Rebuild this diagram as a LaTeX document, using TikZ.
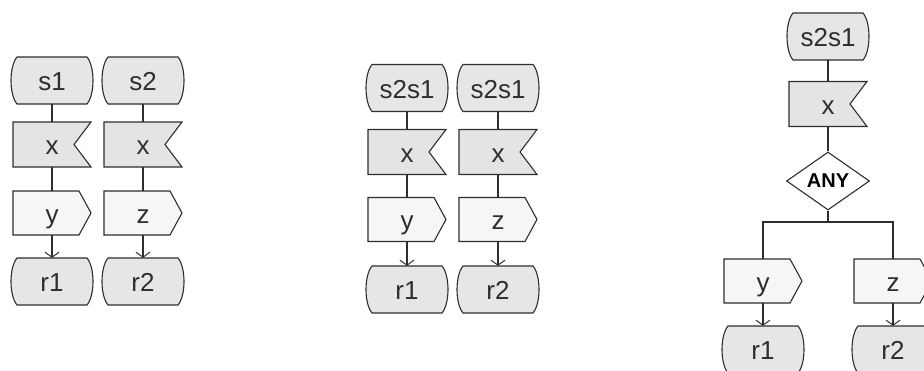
\documentclass[tikz,border=0pt]{standalone}
\usepackage{fontspec}
\setmainfont{Liberation Sans}
\usetikzlibrary{shapes.geometric,arrows.meta}
\definecolor{termfill}{HTML}{E6E6E6}
\definecolor{recvfill}{HTML}{E4E4E4}
\definecolor{sendfill}{HTML}{F6F6F6}
\definecolor{edgecol}{HTML}{2E2E2E}
\tikzset{
  outline/.style={draw=edgecol, line width=1.1pt, line join=miter},
  lbl/.style={inner sep=0pt, font=\fontsize{26}{30}\selectfont, text=edgecol,
              text height=20pt, text depth=0pt},
  conn/.style={draw=edgecol, line width=1.1pt},
  arr/.style={conn, -{Straight Barb[length=5pt,width=14pt,line width=1pt]}},
  decision/.style={diamond, outline, fill=white, inner sep=0pt,
              minimum width=83pt, minimum height=58pt,
              font=\fontsize{20}{22}\selectfont\bfseries, text=black}
}
\newcommand\SDLterm[4]{%
  \filldraw[outline, fill=termfill, shift={(#2,#3)}]
    (-35,-23.5) -- (35,-23.5) .. controls (43,-14) and (43,14) .. (35,23.5)
    -- (-35,23.5) .. controls (-43,14) and (-43,-14) .. (-35,-23.5) -- cycle;
  \node[lbl, minimum width=82pt, minimum height=47pt] (#1) at (#2,#3) {#4};
}
\newcommand\SDLrecv[4]{%
  \filldraw[outline, fill=recvfill, shift={(#2,#3)}]
    (-39,-22.5) -- (39,-22.5) -- (22,0) -- (39,22.5) -- (-39,22.5) -- cycle;
  \node[lbl, minimum width=78pt, minimum height=45pt] (#1) at (#2,#3) {#4};
}
\newcommand\SDLsend[4]{%
  \filldraw[outline, fill=sendfill, shift={(#2,#3)}]
    (-39,-22) -- (27,-22) -- (39,0) -- (27,22) -- (-39,22) -- cycle;
  \node[lbl, minimum width=78pt, minimum height=44pt] (#1) at (#2,#3) {#4};
}
\begin{document}
\begin{tikzpicture}[x=1pt, y=-1pt]
\useasboundingbox (0,0) rectangle (924,370);
% ---------- group 1 ----------
\SDLterm{a1}{52}{80.5}{s1}
\SDLrecv{a2}{52}{144.5}{x}
\SDLsend{a3}{52}{213}{y}
\SDLterm{a4}{52}{281.5}{r1}
\SDLterm{b1}{143}{80.5}{s2}
\SDLrecv{b2}{143}{144.5}{x}
\SDLsend{b3}{143}{213}{z}
\SDLterm{b4}{143}{281.5}{r2}
\draw[conn] (a1.south) -- (a2.north);
\draw[conn] (a2.south) -- (a3.north);
\draw[arr] (a3.south) -- (a4.north);
\draw[conn] (b1.south) -- (b2.north);
\draw[conn] (b2.south) -- (b3.north);
\draw[arr] (b3.south) -- (b4.north);
% ---------- group 2 ----------
\SDLterm{c1}{407}{88}{s2s1}
\SDLrecv{c2}{407}{152}{x}
\SDLsend{c3}{407}{219.5}{y}
\SDLterm{c4}{407}{289.5}{r1}
\SDLterm{d1}{498}{88}{s2s1}
\SDLrecv{d2}{498}{152}{x}
\SDLsend{d3}{498}{219.5}{z}
\SDLterm{d4}{498}{289.5}{r2}
\draw[conn] (c1.south) -- (c2.north);
\draw[conn] (c2.south) -- (c3.north);
\draw[arr] (c3.south) -- (c4.north);
\draw[conn] (d1.south) -- (d2.north);
\draw[conn] (d2.south) -- (d3.north);
\draw[arr] (d3.south) -- (d4.north);
% ---------- group 3 ----------
\SDLterm{e1}{828}{36.5}{s2s1}
\SDLrecv{e2}{828}{104}{x}
\node[decision] (e3) at (828,181) {ANY};
\coordinate (br) at (828,222);
\SDLsend{f1}{763}{281}{y}
\SDLterm{f2}{763}{349.5}{r1}
\SDLsend{g1}{893}{281}{z}
\SDLterm{g2}{893}{349.5}{r2}
\draw[conn] (e1.south) -- (e2.north);
\draw[conn] (e2.south) -- (e3.north);
\draw[conn] (e3.south) -- (br);
\draw[conn] (br) -| (f1.north);
\draw[conn] (br) -| (g1.north);
\draw[arr] (f1.south) -- (f2.north);
\draw[arr] (g1.south) -- (g2.north);
\end{tikzpicture}
\end{document}
